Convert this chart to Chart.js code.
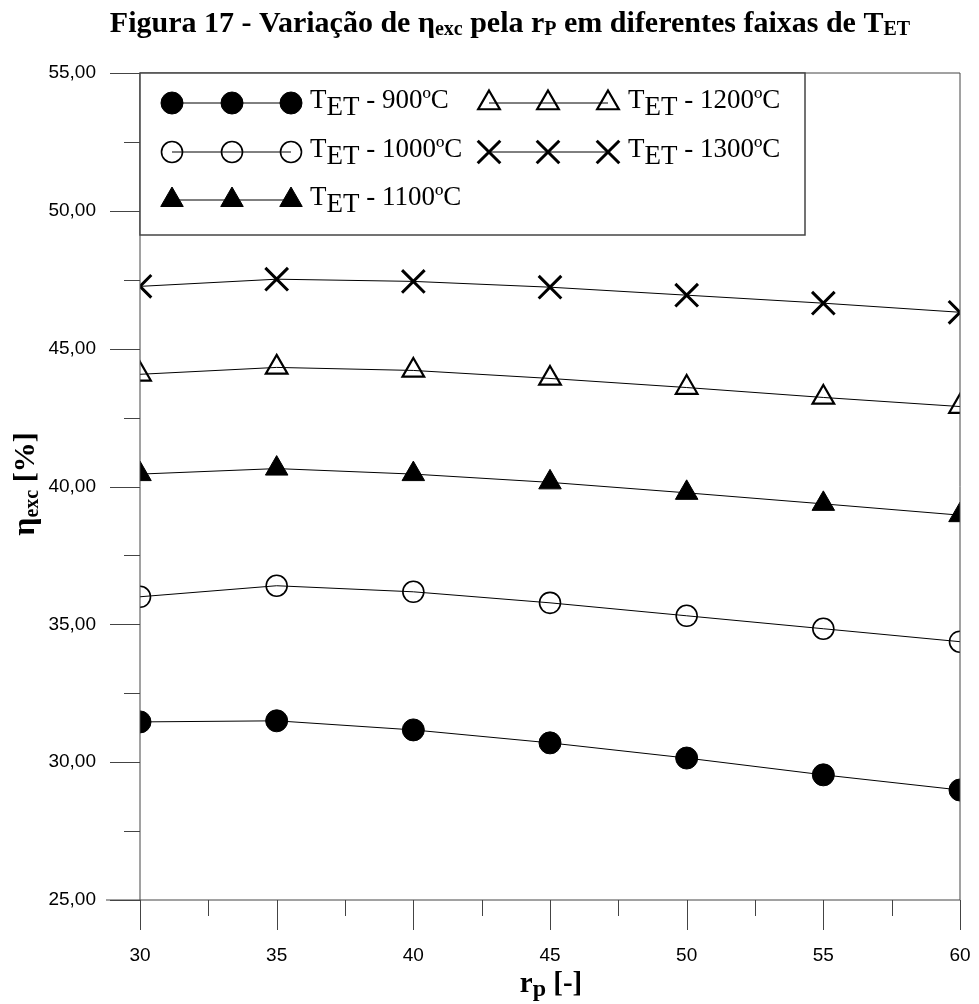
<!DOCTYPE html>
<html>
<head>
<meta charset="utf-8">
<script src="https://cdn.jsdelivr.net/npm/chart.js@4/dist/chart.umd.min.js"></script>
<style>
  html, body { margin: 0; padding: 0; background: #fff; }
  canvas { display: block; }
</style>
</head>
<body>
<canvas id="chart" width="979" height="1004"></canvas>
<script>
// razao de pressao (eixo x)
const rp = [30, 35, 40, 45, 50, 55, 60];

// eficiencia exergetica [%] por faixa de TET
const eta900  = [31.46, 31.50, 31.17, 30.70, 30.15, 29.54, 28.99];
const eta1000 = [36.00, 36.40, 36.18, 35.78, 35.31, 34.84, 34.37];
const eta1100 = [40.45, 40.65, 40.45, 40.15, 39.77, 39.37, 38.96];
const eta1200 = [44.07, 44.32, 44.21, 43.92, 43.59, 43.23, 42.90];
const eta1300 = [47.26, 47.52, 47.44, 47.23, 46.94, 46.65, 46.32];

const seriesLabels = ['900ºC', '1000ºC', '1100ºC', '1200ºC', '1300ºC'];

const yTicks = { min: 25, max: 55, step: 5, minor: 2.5 };
const xTicks = { min: 30, max: 60, step: 5, minor: 2.5 };

const AXIS = '#444';
const SERIF = '"Liberation Serif", "Times New Roman", serif';
const SANS = '"Liberation Sans", Arial, sans-serif';

function series(values, label, style) {
    return Object.assign({
        label: label,
        data: rp.map((x, i) => ({ x: x, y: values[i] })),
        borderColor: '#000',
        borderWidth: 1,
        pointBorderColor: '#000',
        tension: 0
    }, style);
}

const datasets = [
    series(eta900, seriesLabels[0], { pointStyle: 'circle', pointRadius: 11, pointBackgroundColor: '#000', pointBorderWidth: 1 }),
    series(eta1000, seriesLabels[1], { pointStyle: 'circle', pointRadius: 10.5, pointBackgroundColor: 'rgba(0,0,0,0)', pointBorderWidth: 1.6 }),
    series(eta1100, seriesLabels[2], { pointStyle: 'triangle', pointRadius: 13, pointBackgroundColor: '#000', pointBorderWidth: 1 }),
    series(eta1200, seriesLabels[3], { pointStyle: 'triangle', pointRadius: 12.5, pointBackgroundColor: 'rgba(0,0,0,0)', pointBorderWidth: 2.2 }),
    series(eta1300, seriesLabels[4], { pointStyle: 'crossRot', pointRadius: 16, pointBackgroundColor: 'rgba(0,0,0,0)', pointBorderWidth: 3 })
];

// texto com subscritos: parts = [texto, fonte, deslocamento vertical]
function richText(ctx, parts, x, y, align) {
    let w = 0;
    parts.forEach(p => { ctx.font = p[1]; w += ctx.measureText(p[0]).width; });
    let cx = align === 'center' ? x - w / 2 : x;
    ctx.textAlign = 'left';
    ctx.textBaseline = 'alphabetic';
    parts.forEach(p => {
        ctx.font = p[1];
        ctx.fillText(p[0], cx, y + (p[2] || 0));
        cx += ctx.measureText(p[0]).width;
    });
}

const decorations = {
    id: 'decorations',
    afterDraw(chart) {
        const { ctx, chartArea: a, scales: { x, y } } = chart;
        ctx.save();

        // eixos, moldura e marcas
        ctx.strokeStyle = AXIS;
        ctx.lineWidth = 1;
        ctx.beginPath();
        ctx.moveTo(a.left, a.top); ctx.lineTo(a.left, a.bottom);
        ctx.moveTo(106, a.bottom); ctx.lineTo(a.right, a.bottom);
        ctx.moveTo(a.left, a.top); ctx.lineTo(a.right, a.top);
        ctx.moveTo(a.right, a.top); ctx.lineTo(a.right, a.bottom);
        for (let v = yTicks.min; v <= yTicks.max; v += yTicks.minor) {
            const py = Math.round(y.getPixelForValue(v)) + 0.5;
            const len = v % yTicks.step === 0 ? 30 : 16;
            ctx.moveTo(a.left - len, py); ctx.lineTo(a.left, py);
        }
        for (let v = xTicks.min; v <= xTicks.max; v += xTicks.minor) {
            const px = Math.round(x.getPixelForValue(v)) + 0.5;
            const len = v % xTicks.step === 0 ? 30 : 16;
            ctx.moveTo(px, a.bottom); ctx.lineTo(px, a.bottom + len);
        }
        ctx.stroke();

        // legenda
        const box = { l: a.left, t: a.top, r: 805, b: 235 };
        ctx.fillStyle = '#fff';
        ctx.fillRect(box.l, box.t, box.r - box.l, box.b - box.t);
        ctx.strokeStyle = AXIS;
        ctx.lineWidth = 1.5;
        ctx.strokeRect(box.l, box.t, box.r - box.l, box.b - box.t);

        const cols = [[172, 232, 291, 310], [489, 548, 608, 628]];
        const rows = [103, 152, 200];
        const slots = [[0, 0], [0, 1], [0, 2], [1, 0], [1, 1]];
        chart.data.datasets.forEach((ds, i) => {
            const col = cols[slots[i][0]];
            const ry = rows[slots[i][1]];
            ctx.strokeStyle = '#000';
            ctx.lineWidth = 1;
            ctx.beginPath();
            ctx.moveTo(col[0], ry); ctx.lineTo(col[2], ry);
            ctx.stroke();
            for (let k = 0; k < 3; k++) {
                ctx.fillStyle = ds.pointBackgroundColor;
                ctx.strokeStyle = '#000';
                ctx.lineWidth = ds.pointBorderWidth;
                Chart.helpers.drawPoint(ctx, {
                    pointStyle: ds.pointStyle, radius: ds.pointRadius,
                    rotation: 0, borderWidth: ds.pointBorderWidth
                }, col[k], ry);
            }
            ctx.fillStyle = '#000';
            const f = '27px ' + SERIF;
            richText(ctx, [['T', f], ['ET', f, 7], [' - ' + ds.label, f]], col[3], ry + 5, 'left');
        });

        // titulo
        ctx.fillStyle = '#000';
        const tb = 'bold 30px ' + SERIF, ts = 'bold 20px ' + SERIF;
        richText(ctx, [
            ['Figura 17 - Variação de η', tb], ['exc', ts, 3],
            [' pela r', tb], ['P', ts, 3],
            [' em diferentes faixas de T', tb], ['ET', ts, 3]
        ], 510, 32, 'center');

        // titulos dos eixos
        richText(ctx, [['r', 'bold 29px ' + SERIF], ['p', 'bold 24px ' + SERIF, 4], [' [-]', 'bold 29px ' + SERIF]], 551, 992, 'center');
        ctx.translate(34, 484);
        ctx.rotate(-Math.PI / 2);
        richText(ctx, [['η', 'bold 32px ' + SERIF], ['exc', 'bold 20px ' + SERIF, 4], [' [%]', 'bold 30px ' + SERIF]], 0, 0, 'center');
        ctx.restore();
    }
};

const fmt = v => v.toFixed(2).replace('.', ',');

new Chart(document.getElementById('chart'), {
    type: 'line',
    data: { datasets: datasets },
    options: {
        responsive: false,
        animation: false,
        layout: { padding: { top: 73, right: 11, left: 0, bottom: 0 } },
        plugins: { legend: { display: false }, tooltip: { enabled: false } },
        scales: {
            x: {
                type: 'linear', min: xTicks.min, max: xTicks.max,
                ticks: { stepSize: xTicks.step, padding: 44, color: '#000', font: { family: SANS, size: 19 } },
                grid: { display: false, drawTicks: false },
                border: { display: false },
                afterFit(s) { s.height = 104; s.paddingLeft = 0; s.paddingRight = 0; }
            },
            y: {
                type: 'linear', min: yTicks.min, max: yTicks.max,
                ticks: { stepSize: yTicks.step, padding: 44, color: '#000', font: { family: SANS, size: 19 }, callback: fmt },
                grid: { display: false, drawTicks: false },
                border: { display: false },
                afterFit(s) { s.width = 140; s.paddingTop = 0; s.paddingBottom = 0; }
            }
        }
    },
    plugins: [decorations]
});
</script>
</body>
</html>
